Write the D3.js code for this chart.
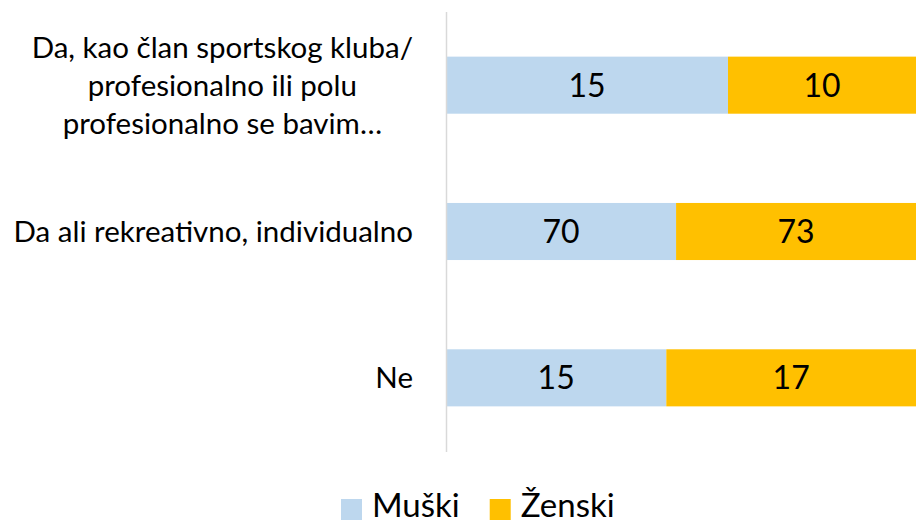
<!DOCTYPE html>
<html>
<head>
<meta charset="utf-8">
<script src="https://cdn.jsdelivr.net/npm/d3@7"></script>
<style>
  body { margin: 0; background: #fff; }
  svg { display: block; font-family: Lato, "Open Sans", sans-serif; }
</style>
</head>
<body>
<svg id="chart" width="916" height="524"></svg>
<script>
// categories (top to bottom), label lines as shown
const categories = [
  ["Da, kao član sportskog kluba/", "profesionalno ili polu", "profesionalno se bavim…"],
  ["Da ali rekreativno, individualno"],
  ["Ne"]
];
const seriesNames = ["Muški", "Ženski"];
const muski = [15, 70, 15];
const zenski = [10, 73, 17];
const colors = ["#BDD7EE", "#FFC000"];

const svg = d3.select("#chart");

// plot area
const plot = { left: 446, right: 916, top: 12, bottom: 451 };

const rows = categories.map((c, i) => ({ key: i, lines: c, Muški: muski[i], Ženski: zenski[i] }));

const stack = d3.stack().keys(seriesNames).offset(d3.stackOffsetExpand);
const stacked = stack(rows);

const x = d3.scaleLinear().domain([0, 1]).range([plot.left, plot.right]);
const y = d3.scaleBand()
  .domain(rows.map(d => d.key))
  .range([plot.top, plot.bottom])
  .paddingInner(0.61)
  .paddingOuter(0.305);

// bars
const groups = svg.selectAll(".series")
  .data(stacked)
  .enter()
  .append("g")
  .attr("class", "series")
  .attr("fill", (d, i) => colors[i]);

groups.selectAll("rect")
  .data(d => d)
  .enter()
  .append("rect")
  .attr("x", d => x(d[0]))
  .attr("y", d => y(d.data.key))
  .attr("width", d => x(d[1]) - x(d[0]))
  .attr("height", y.bandwidth());

// data labels
groups.each(function (s) {
  d3.select(this).selectAll("text")
    .data(s)
    .enter()
    .append("text")
    .attr("x", d => (x(d[0]) + x(d[1])) / 2)
    .attr("y", d => y(d.data.key) + y.bandwidth() / 2)
    .attr("dy", "0.36em")
    .attr("text-anchor", "middle")
    .attr("fill", "#000")
    .style("font-size", "32px")
    .text(d => d.data[s.key]);
});

// vertical axis line
svg.append("line")
  .attr("x1", plot.left + 0.5).attr("x2", plot.left + 0.5)
  .attr("y1", plot.top).attr("y2", plot.bottom + 1)
  .attr("stroke", "#d9d9d9")
  .attr("stroke-width", 1.5);

// category labels
const labelRight = 413;
const lineH = 38;
rows.forEach(r => {
  const cy = y(r.key) + y.bandwidth() / 2;
  const g = svg.append("g");
  const n = r.lines.length;
  const texts = r.lines.map((ln, j) =>
    g.append("text")
      .attr("y", cy + (j - (n - 1) / 2) * lineH)
      .attr("dy", "0.36em")
      .style("font-size", "29.5px")
      .attr("fill", "#000")
      .text(ln)
  );
  // center wrapped lines on the widest line, right aligned block
  const widths = texts.map(t => t.node().getComputedTextLength());
  const maxW = d3.max(widths);
  const center = labelRight - maxW / 2;
  texts.forEach(t => t.attr("x", center).attr("text-anchor", "middle"));
});

// legend
const legendY = 505;
const legend = svg.append("g");
let lx = 341;
seriesNames.forEach((name, i) => {
  legend.append("rect")
    .attr("x", lx).attr("y", 499)
    .attr("width", 21).attr("height", 21)
    .attr("fill", colors[i]);
  const t = legend.append("text")
    .attr("x", lx + 31)
    .attr("y", legendY)
    .attr("dy", "0.36em")
    .style("font-size", "33px")
    .attr("fill", "#000")
    .text(name);
  lx += 31 + t.node().getComputedTextLength() + 30;
});
</script>
</body>
</html>
